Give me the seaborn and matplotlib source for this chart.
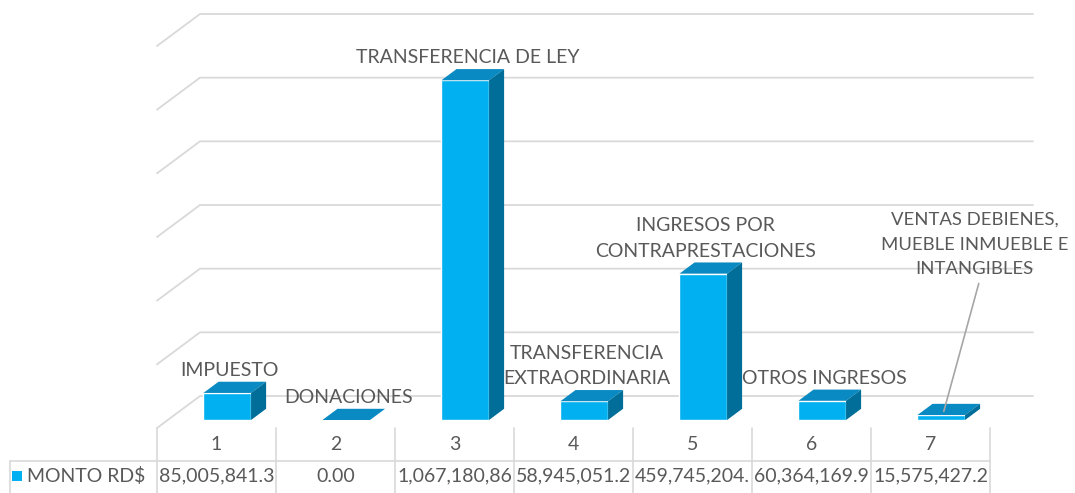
import numpy as np
import pandas as pd
import matplotlib
matplotlib.use("Agg")
import matplotlib.pyplot as plt
import seaborn as sns
from matplotlib.transforms import Affine2D, IdentityTransform
from matplotlib.patches import Polygon
from matplotlib.lines import Line2D

# ---------------- data ----------------
categories = ["1", "2", "3", "4", "5", "6", "7"]
bar_labels = ["IMPUESTO", "DONACIONES", "TRANSFERENCIA DE LEY",
              "TRANSFERENCIA\nEXTRAORDINARIA", "INGRESOS POR\nCONTRAPRESTACIONES",
              "OTROS INGRESOS", "VENTAS DEBIENES,\nMUEBLE INMUEBLE E\nINTANGIBLES"]
values = [85005841.3, 0.00, 1067180865.0, 58945051.2, 459745204.0, 60364169.9, 15575427.2]
table_text = ["85,005,841.3", "0.00", "1,067,180,86", "58,945,051.2",
              "459,745,204.", "60,364,169.9", "15,575,427.2"]
series_name = "MONTO RD$"
grid_values = [0, 200e6, 400e6, 600e6, 800e6, 1000e6, 1200e6]

# ---------------- style ----------------
W, H = 1075, 493
FRONT = "#00B0F0"
TOP = "#0A8AC2"
SIDE = "#006E98"
GRID = "#D9D9D9"
TXT = "#595959"
DX, DY = 43, 32          # full depth offset in pixels
D0, D1 = 0.25, 0.60      # bar depth range
FS = 14
LS = 1.6

sns.set_style("white")
plt.rcParams['font.family'] = ['Lato', 'DejaVu Sans']

fig = plt.figure(figsize=(W / 100, H / 100), dpi=100)
ax = fig.add_axes([157 / W, (H - 428) / H, 833 / W, 382 / H])
df = pd.DataFrame({"cat": categories, "val": values})
sns.barplot(data=df, x="cat", y="val", color=FRONT, width=0.4, saturation=1,
            ax=ax, zorder=3)
ax.set_xlim(-0.5, 6.5)
ax.set_ylim(0, 1200e6)
ax.axis("off")
fig.canvas.draw()

T = ax.transData
idt = IdentityTransform()

def disp(x, y, d):
    px, py = T.transform((x, y))
    return (px + DX * d, py + DY * d)

# gridlines (left side wall diagonal + back wall)
for g in grid_values:
    pts = [disp(-0.5, g, 0), disp(-0.5, g, 1), disp(6.5, g, 1)]
    fig.add_artist(Line2D([p[0] for p in pts], [p[1] for p in pts],
                          color=GRID, lw=1.3, transform=idt, zorder=0))

# 3D bars
for p in list(ax.patches):
    x0, w, h = p.get_x(), p.get_width(), p.get_height()
    x1 = x0 + w
    p.set_transform(T + Affine2D().translate(DX * D0, DY * D0))
    p.set_clip_on(False)
    top = [disp(x0, h, D0), disp(x1, h, D0), disp(x1, h, D1), disp(x0, h, D1)]
    side = [disp(x1, 0, D0), disp(x1, h, D0), disp(x1, h, D1), disp(x1, 0, D1)]
    fig.add_artist(Polygon(top, closed=True, facecolor=TOP, edgecolor="none",
                           transform=idt, zorder=4))
    fig.add_artist(Polygon(side, closed=True, facecolor=SIDE, edgecolor="none",
                           transform=idt, zorder=4))

# data labels
for i, (lab, v) in enumerate(zip(bar_labels, values)):
    if i == 6:
        continue
    ax.annotate(lab, xy=(i, v), xytext=(13, 22), textcoords="offset pixels",
                ha="center", va="bottom", multialignment="center",
                fontsize=FS, color=TXT, linespacing=LS, zorder=6,
                annotation_clip=False)

# last label with leader line
bx, by = disp(6, values[6], (D0 + D1) / 2)
tx, ty = bx + 30, by + 126
fig.add_artist(Line2D([bx - 5, tx], [by - 2, ty], color="#A6A6A6", lw=1.2,
                      transform=idt, zorder=6))
fig.text(tx - 4, ty + 6, bar_labels[6], ha="center", va="bottom",
         multialignment="center", fontsize=13.3, color=TXT, linespacing=1.68,
         transform=idt, zorder=6)

# ---------------- data table ----------------
def fy(py):
    return H - py

TBL = "#D9D9D9"
for k in range(len(categories) + 1):
    xk = T.transform((k - 0.5, 0))[0]
    fig.add_artist(Line2D([xk, xk], [fy(428), fy(493)], color=TBL, lw=1.2,
                          transform=idt))
x_end = T.transform((6.5, 0))[0]
fig.add_artist(Line2D([10, x_end], [fy(461), fy(461)], color=TBL, lw=1.2,
                      transform=idt))
fig.add_artist(Line2D([10, 10], [fy(461), fy(493)], color=TBL, lw=1.2,
                      transform=idt))

for i, (c, t) in enumerate(zip(categories, table_text)):
    cx = T.transform((i, 0))[0]
    fig.text(cx, fy(444), c, ha="center", va="center", fontsize=FS,
             color=TXT, transform=idt)
    fig.text(cx, fy(476), t, ha="center", va="center", fontsize=FS,
             color=TXT, transform=idt)

fig.add_artist(Polygon([(12, fy(481)), (22, fy(481)), (22, fy(471)), (12, fy(471))],
                       closed=True, facecolor=FRONT, edgecolor="none",
                       transform=idt))
fig.text(27, fy(476), series_name, ha="left", va="center", fontsize=FS,
         color=TXT, transform=idt)

fig.savefig("out.png", dpi=100)
